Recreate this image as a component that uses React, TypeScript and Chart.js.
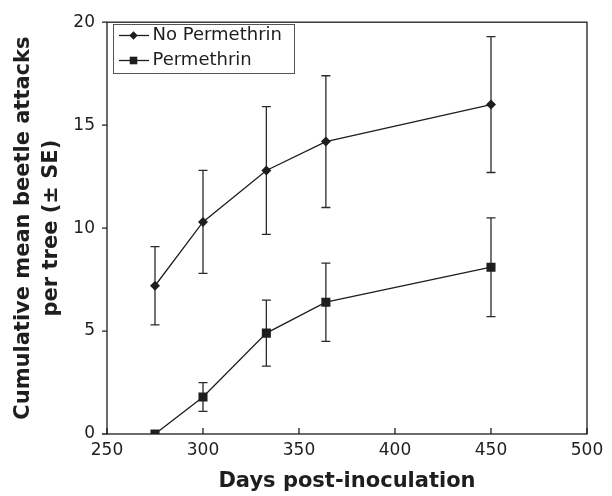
import React, { useEffect, useRef } from 'react';
import { Chart, registerables } from 'chart.js';

Chart.register(...registerables);

const days = [275, 300, 333, 364, 450];
const noPermMean = [7.2, 10.3, 12.8, 14.2, 16.0];
const noPermLow = [5.3, 7.8, 9.7, 11.0, 12.7];
const noPermHigh = [9.1, 12.8, 15.9, 17.4, 19.3];
const permMean = [0, 1.8, 4.9, 6.4, 8.1];
const permLow = [0, 1.1, 3.3, 4.5, 5.7];
const permHigh = [0, 2.5, 6.5, 8.3, 10.5];
const xTicks = [250, 300, 350, 400, 450, 500];
const yTicks = [0, 5, 10, 15, 20];
const seriesNames = ['No Permethrin', 'Permethrin'];
const xTitle = 'Days post-inoculation';
const yTitleLines = ['Cumulative mean beetle attacks', 'per tree (\u00b1 SE)'];

const INK = '#1e1e1e';
const FONT = '"DejaVu Sans", Verdana, sans-serif';

function drawMarker(ctx: CanvasRenderingContext2D, kind: string, x: number, y: number, r: number) {
  ctx.beginPath();
  if (kind === 'diamond') {
    ctx.moveTo(x, y - r);
    ctx.lineTo(x + r, y);
    ctx.lineTo(x, y + r);
    ctx.lineTo(x - r, y);
    ctx.closePath();
  } else {
    ctx.rect(x - r, y - r, 2 * r, 2 * r);
  }
  ctx.fill();
}

const decor = {
  id: 'decor',
  beforeDatasetsDraw(chart: any) {
    const { ctx, chartArea: a, scales } = chart;
    const x = scales.x;
    const y = scales.y;
    ctx.save();
    ctx.strokeStyle = INK;
    ctx.lineWidth = 1.3;
    ctx.strokeRect(a.left, a.top, a.right - a.left, a.bottom - a.top);
    ctx.beginPath();
    xTicks.forEach((v) => {
      const px = x.getPixelForValue(v);
      ctx.moveTo(px, a.bottom);
      ctx.lineTo(px, a.bottom - 6);
    });
    yTicks.forEach((v) => {
      const py = y.getPixelForValue(v);
      ctx.moveTo(a.left - 5, py);
      ctx.lineTo(a.left, py);
    });
    ctx.stroke();

    // error bars
    ctx.strokeStyle = '#2a2a2a';
    ctx.lineWidth = 1.3;
    const bars = (lo: number[], hi: number[]) => {
      days.forEach((d, i) => {
        if (hi[i] === lo[i]) return;
        const px = x.getPixelForValue(d);
        const p1 = y.getPixelForValue(lo[i]);
        const p2 = y.getPixelForValue(hi[i]);
        ctx.beginPath();
        ctx.moveTo(px, p1);
        ctx.lineTo(px, p2);
        ctx.moveTo(px - 4.5, p1);
        ctx.lineTo(px + 4.5, p1);
        ctx.moveTo(px - 4.5, p2);
        ctx.lineTo(px + 4.5, p2);
        ctx.stroke();
      });
    };
    bars(noPermLow, noPermHigh);
    bars(permLow, permHigh);
    ctx.restore();
  },
  afterDraw(chart: any) {
    const { ctx, chartArea: a } = chart;
    ctx.save();
    // legend
    ctx.strokeStyle = '#555';
    ctx.lineWidth = 1;
    ctx.strokeRect(113.5, 24.5, 181, 49);
    const rows = [
      { name: seriesNames[0], kind: 'diamond', y: 35.5, r: 4.2 },
      { name: seriesNames[1], kind: 'square', y: 60.5, r: 3.8 },
    ];
    rows.forEach((row) => {
      ctx.strokeStyle = INK;
      ctx.lineWidth = 1.3;
      ctx.beginPath();
      ctx.moveTo(119, row.y);
      ctx.lineTo(149, row.y);
      ctx.stroke();
      ctx.fillStyle = INK;
      drawMarker(ctx, row.kind, 133.5, row.y, row.r);
      ctx.font = `18px ${FONT}`;
      ctx.textAlign = 'left';
      ctx.textBaseline = 'middle';
      ctx.fillText(row.name, 152.5, row.y);
    });
    // axis titles
    ctx.fillStyle = INK;
    ctx.font = `bold 21px ${FONT}`;
    ctx.textAlign = 'center';
    ctx.textBaseline = 'middle';
    ctx.fillText(xTitle, (a.left + a.right) / 2, 482);
    ctx.translate(0, (a.top + a.bottom) / 2);
    ctx.rotate(-Math.PI / 2);
    ctx.fillText(yTitleLines[0], 0, 24);
    ctx.fillText(yTitleLines[1], 0, 52);
    ctx.restore();
  },
};

export default function App() {
  const ref = useRef<HTMLCanvasElement | null>(null);
  useEffect(() => {
    if (!ref.current) return;
    const chart = new Chart(ref.current, {
      type: 'scatter',
      data: {
        datasets: [
          {
            label: seriesNames[0],
            data: days.map((d, i) => ({ x: d, y: noPermMean[i] })),
            showLine: true,
            borderColor: INK,
            backgroundColor: INK,
            borderWidth: 1.3,
            pointStyle: 'rectRot',
            pointRadius: 5,
            pointBorderWidth: 0,
            tension: 0,
          },
          {
            label: seriesNames[1],
            data: days.map((d, i) => ({ x: d, y: permMean[i] })),
            showLine: true,
            borderColor: INK,
            backgroundColor: INK,
            borderWidth: 1.3,
            pointStyle: 'rect',
            pointRadius: 6.4,
            pointBorderWidth: 0,
            tension: 0,
          },
        ],
      },
      options: {
        responsive: false,
        animation: false,
        layout: { padding: { top: 17, right: 25, left: 0, bottom: 0 } },
        plugins: { legend: { display: false }, tooltip: { enabled: false } },
        scales: {
          x: {
            type: 'linear',
            min: 250,
            max: 500,
            afterFit: (s: any) => { s.height = 62; },
            afterBuildTicks: (s: any) => { s.ticks = xTicks.map((v) => ({ value: v })); },
            grid: { display: false, drawTicks: false },
            border: { display: false },
            ticks: { font: { size: 17, family: FONT }, color: INK, padding: 6 },
          },
          y: {
            type: 'linear',
            min: 0,
            max: 20,
            afterFit: (s: any) => { s.width = 107; },
            afterBuildTicks: (s: any) => { s.ticks = yTicks.map((v) => ({ value: v })); },
            grid: { display: false, drawTicks: false },
            border: { display: false },
            ticks: { font: { size: 17, family: FONT }, color: INK, padding: 12 },
          },
        },
      },
      plugins: [decor],
    });
    return () => chart.destroy();
  }, []);
  return (
    <div style={{ position: 'absolute', left: 0, top: 0, width: 612, height: 496 }}>
      <canvas ref={ref} width={612} height={496} />
    </div>
  );
}
